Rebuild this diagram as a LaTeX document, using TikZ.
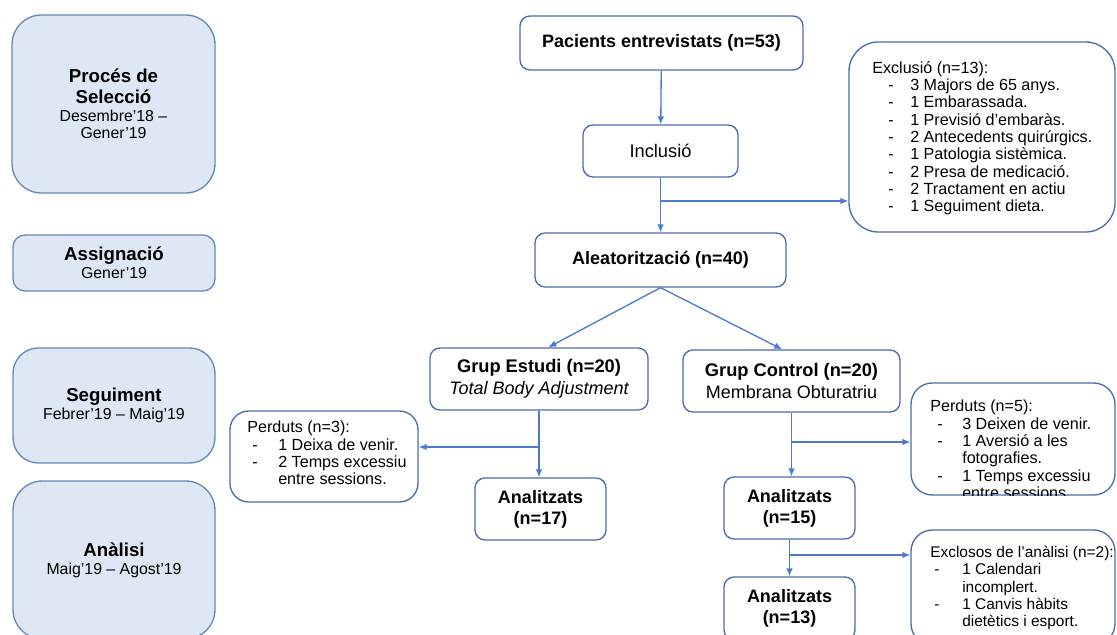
\documentclass[tikz,border=0pt]{standalone}
\usepackage{fontspec}
\setmainfont{Liberation Sans}
\usetikzlibrary{arrows.meta}

\definecolor{boxblue}{HTML}{4A6DAE}
\definecolor{arrowblue}{HTML}{4A7BCF}
\definecolor{stagefill}{HTML}{DEE8F4}
\definecolor{stageline}{HTML}{6688BE}

\newlength\dashind
\newlength\textind
\newcommand{\li}[1]{\makebox[\textind][l]{\hspace*{\dashind}-}#1}
\newcommand{\cont}[1]{\hspace*{\textind}#1}
\newcommand{\stagetitle}[1]{{\bfseries\fontsize{14}{15.75}\selectfont #1}}

\begin{document}
\begin{tikzpicture}[x=0.75pt, y=-0.75pt,
    boxsize/.style 2 args={minimum width=#1*0.75pt, minimum height=#2*0.75pt},
    flowbox/.style={draw=boxblue, line width=1pt, rounded corners=7.5pt, fill=white, inner sep=0pt, align=center},
    stagebox/.style={draw=stageline, fill=stagefill, line width=1pt, inner sep=0pt, align=center,
        font=\fontsize{11.9}{15.75}\selectfont},
    titlefont/.style={font=\bfseries\fontsize{13.5}{15.75}\selectfont},
    listtext/.style={inner sep=0pt, align=left, anchor=north west, font=\fontsize{12.1}{13}\selectfont},
    dashes/.style 2 args={execute at begin node={\global\dashind=#1\relax\global\textind=#2\relax}},
    flowarrow/.style={draw=arrowblue, line width=1pt, -{Latex[length=6pt, width=5pt]}}]

\useasboundingbox (0,0) rectangle (1117,635);
\clip (0,0) rectangle (1117,635);
\fill[white] (0,0) rectangle (1117,635);

% stages
\node[stagebox, rounded corners=22pt, boxsize={203}{178}] (sel) at (113.5,104)
    {\stagetitle{Procés de}\\\stagetitle{Selecció}\\[-2.25pt]Desembre'18 –\\[-3pt]Gener'19};
\node[stagebox, rounded corners=9pt, boxsize={202}{56}] (asg) at (114,263)
    {\stagetitle{Assignació}\\[-2.25pt]Gener'19};
\node[stagebox, rounded corners=19pt, boxsize={202}{115}] (seg) at (114,405.5)
    {\stagetitle{Seguiment}\\[-2.25pt]Febrer'19 – Maig'19};
\node[stagebox, rounded corners=22pt, boxsize={202}{158}] (ana) at (114,560)
    {\stagetitle{Anàlisi}\\[-2.25pt]Maig'19 – Agost'19};

% selection
\node[flowbox, titlefont, boxsize={283}{54}] (pac) at (661.5,43) {Pacients entrevistats (n=53)};
\node[flowbox, font=\fontsize{13.7}{16}\selectfont, boxsize={155}{52}] (inc) at (660.5,151) {Inclusió};
\node[flowbox, titlefont, boxsize={251}{54}] (ale) at (660.5,260) {Aleatorització (n=40)};
\node[flowbox, rounded corners=22pt, boxsize={266}{190}] (exc) at (982,137) {};
\node[listtext, dashes={12pt}{28.5pt}] (exctxt) at (872,61)
    {Exclusió (n=13):\\
     \li{3 Majors de 65 anys.}\\
     \li{1 Embarassada.}\\
     \li{1 Previsió d'embaràs.}\\
     \li{2 Antecedents quirúrgics.}\\
     \li{1 Patologia sistèmica.}\\
     \li{2 Presa de medicació.}\\
     \li{2 Tractament en actiu}\\
     \li{1 Seguiment dieta.}};

% groups
\node[flowbox, font=\fontsize{13.5}{16.5}\selectfont, boxsize={218}{62}] (ge) at (539,379)
    {{\bfseries\fontsize{13.7}{16.5}\selectfont Grup Estudi (n=20)}\\{\itshape Total Body Adjustment}};
\node[flowbox, font=\fontsize{13.5}{16.5}\selectfont, boxsize={217}{62}] (gc) at (791.5,381)
    {{\bfseries\fontsize{13.7}{16.5}\selectfont Grup Control (n=20)}\\Membrana Obturatriu};

\node[flowbox, rounded corners=14pt, boxsize={188}{91}] (per3) at (324,456.5) {};
\node[listtext, dashes={3.75pt}{23.25pt}] (per3txt) at (247,421)
    {Perduts (n=3):\\
     \li{1 Deixa de venir.}\\
     \li{2 Temps excessiu}\\
     \cont{entre sessions.}};
\node[flowbox, titlefont, boxsize={131}{62}] (an17) at (540.5,509) {Analitzats\\(n=17)};

\node[flowbox, rounded corners=16pt, boxsize={204}{112}] (per5) at (1013,439) {};
\begin{scope}
  \clip[rounded corners=16pt] (per5.north west) rectangle (per5.south east);
  \node[listtext, dashes={5.25pt}{24pt}] (per5txt) at (930,400)
    {Perduts (n=5):\\
     \li{3 Deixen de venir.}\\
     \li{1 Aversió a les}\\
     \cont{fotografies.}\\
     \li{1 Temps excessiu}\\
     \cont{entre sessions.}};
\end{scope}
\node[flowbox, titlefont, boxsize={131}{62}] (an15) at (789.5,508) {Analitzats\\(n=15)};

\node[flowbox, rounded corners=16pt, boxsize={204}{115}] (exl) at (1013,587.5) {};
\node[listtext, dashes={3pt}{24pt}, font=\fontsize{11.6}{13}\selectfont] (exltxt) at (930,546)
    {Exclosos de l'anàlisi (n=2):\\
     \li{1 Calendari}\\
     \cont{incomplert.}\\
     \li{1 Canvis hàbits}\\
     \cont{dietètics i esport.}};
\node[flowbox, titlefont, boxsize={131}{63}] (an13) at (789.5,608.5) {Analitzats\\(n=13)};

% connectors
\coordinate (excbranch) at (660.5,201);
\coordinate (gebranch) at (ge.south |- 0,447);
\coordinate (gcbranch) at (gc.south |- 0,442);
\coordinate (anbranch) at (an15.south |- 0,555);

\draw[flowarrow] (pac) -- (inc);
\draw[flowarrow] (inc) -- (ale);
\draw[flowarrow] (excbranch) -- (excbranch -| exc.west);
\draw[flowarrow] (ale.south) -- ([xshift=7pt]ge.north);
\draw[flowarrow] (ale.south) -- ([xshift=-7pt]gc.north);
\draw[flowarrow] (ge.south) -- (ge.south |- an17.north);
\draw[flowarrow] (gebranch) -- (gebranch -| per3.east);
\draw[flowarrow] (gc.south) -- (gc.south |- an15.north);
\draw[flowarrow] (gcbranch) -- (gcbranch -| per5.west);
\draw[flowarrow] (an15) -- (an13);
\draw[flowarrow] (anbranch) -- (anbranch -| exl.west);
\end{tikzpicture}
\end{document}
